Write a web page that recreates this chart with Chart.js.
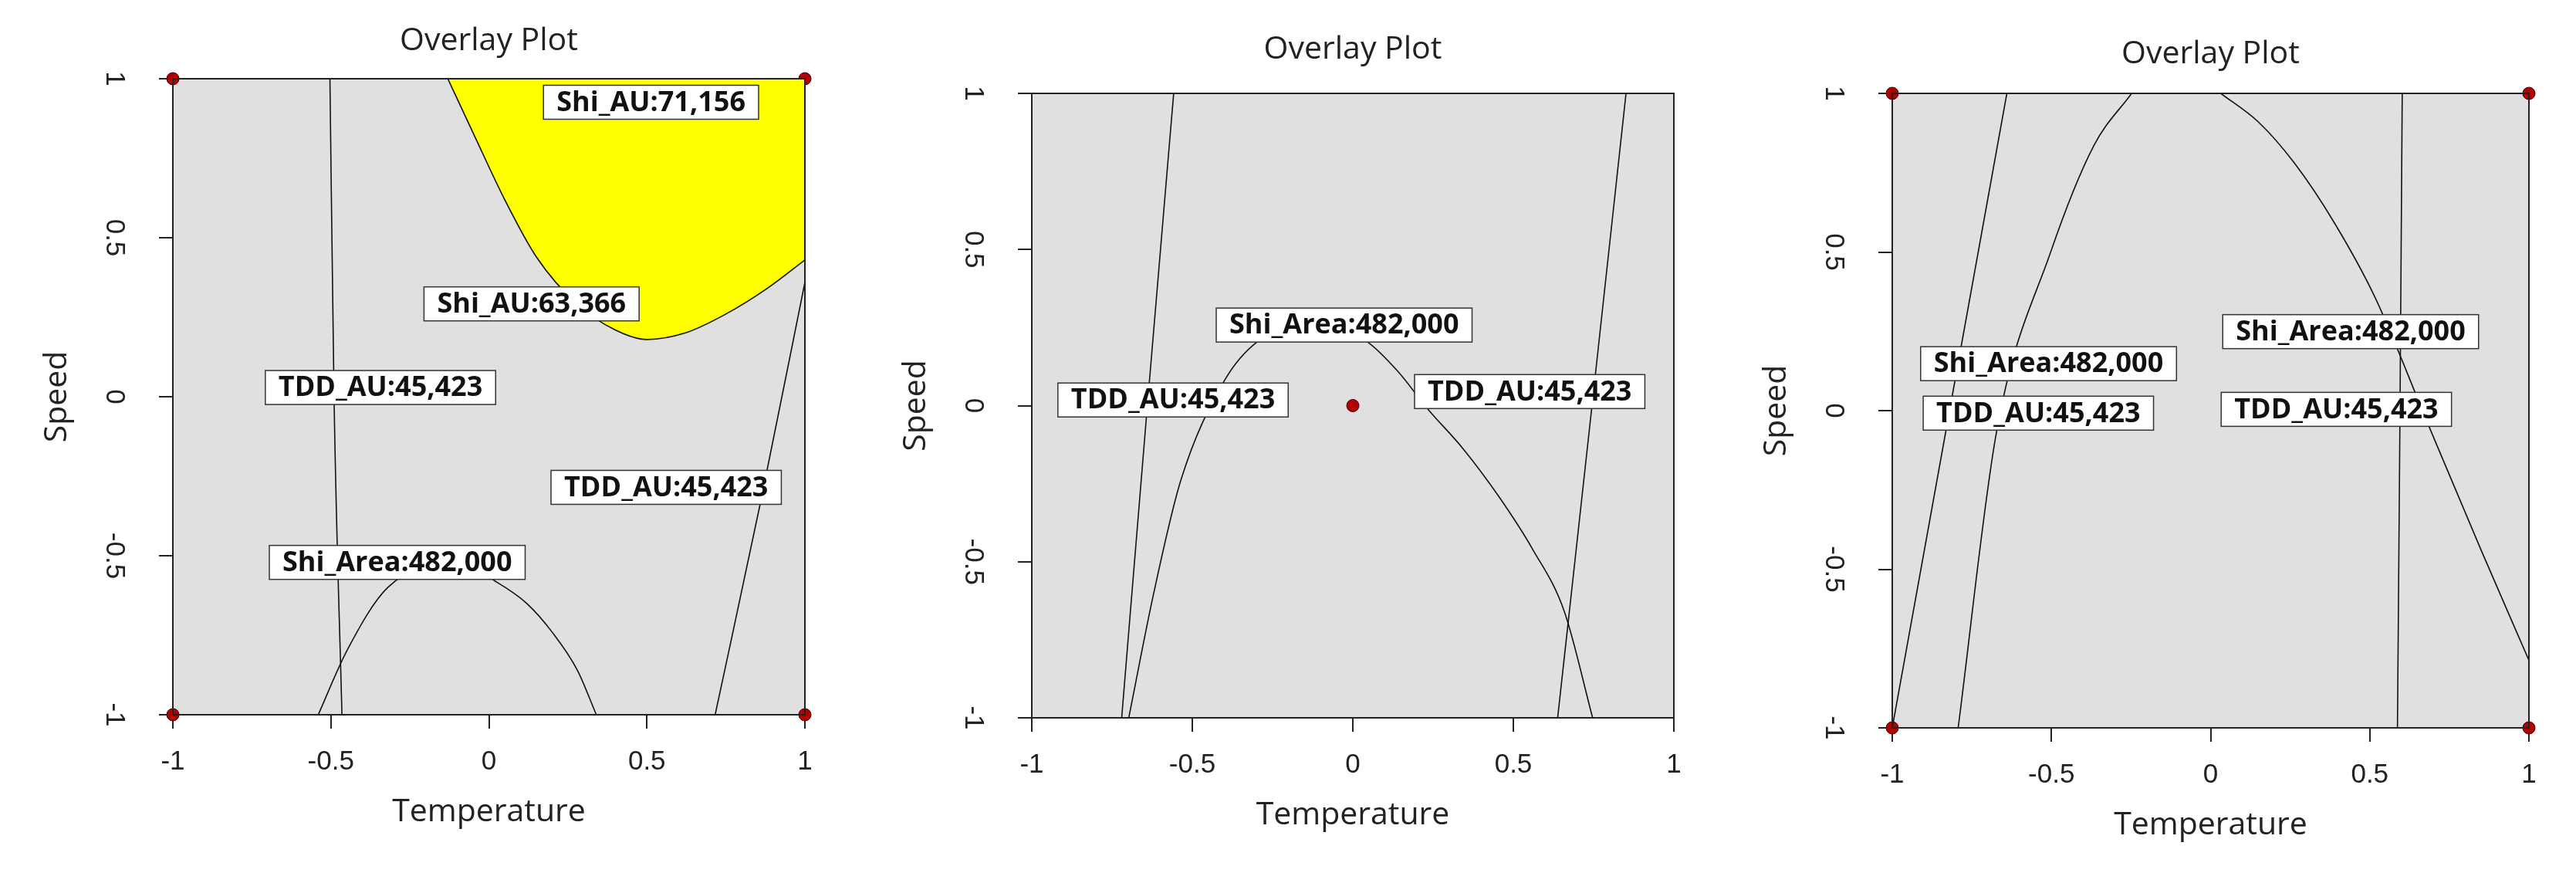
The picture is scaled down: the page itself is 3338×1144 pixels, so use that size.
<!DOCTYPE html>
<html lang="en">
<head>
<meta charset="UTF-8">
<title>Overlay Plot</title>
<script src="https://cdn.jsdelivr.net/npm/chart.js@4.4.1/dist/chart.umd.min.js"></script>
<style>
  body { margin: 0; background: #fff; width: 3338px; height: 1144px; overflow: hidden; }
  .panel { position: absolute; top: 0; height: 1144px; }
</style>
</head>
<body>
<div class="panel" style="left:0;width:1110px"><canvas id="c1"></canvas></div>
<div class="panel" style="left:1110px;width:1110px"><canvas id="c2"></canvas></div>
<div class="panel" style="left:2220px;width:1118px"><canvas id="c3"></canvas></div>
<script>
// tick values shared by both axes
const tickValues = [-1, -0.5, 0, 0.5, 1];
const designPointsCorners = [[-1, 1], [1, 1], [-1, -1], [1, -1]];
const designPointCenter = [[0, 0]];

// panel 1
const p1TddLeft = [[-0.503, 1], [-0.49, 0], [-0.465, -1]];
const p1TddRight = [[0.716, -1], [0.86, -0.33], [1, 0.36]];
const p1ShiArea = [[-0.54, -1], [-0.45, -0.8], [-0.32, -0.6], [-0.1, -0.52], [0.02, -0.58], [0.12, -0.65], [0.2, -0.74], [0.28, -0.86], [0.34, -1]];
const p1ShiAu = [[-0.13, 1], [-0.05, 0.83], [0.05, 0.62], [0.15, 0.44], [0.28, 0.29], [0.4, 0.21], [0.5, 0.18], [0.62, 0.2], [0.75, 0.26], [0.88, 0.34], [1, 0.43]];
const p1Labels = [['Shi_AU:71,156', 0.513, 0.926], ['Shi_AU:63,366', 0.135, 0.292], ['TDD_AU:45,423', -0.343, 0.029], ['TDD_AU:45,423', 0.561, -0.285], ['Shi_Area:482,000', -0.29, -0.521]];

// panel 2
const p2TddLeft = [[-0.558, 1], [-0.64, 0], [-0.72, -1]];
const p2TddRight = [[0.851, 1], [0.745, 0], [0.638, -1]];
const p2ShiArea = [[-0.698, -1], [-0.62, -0.6], [-0.536, -0.24], [-0.4, 0.08], [-0.297, 0.205], [-0.12, 0.27], [0.044, 0.205], [0.14, 0.11], [0.232, -0.009], [0.345, -0.14], [0.454, -0.29], [0.56, -0.46], [0.659, -0.66], [0.747, -1]];
const p2Labels = [['Shi_Area:482,000', -0.027, 0.258], ['TDD_AU:45,423', -0.56, 0.018], ['TDD_AU:45,423', 0.551, 0.045]];

// panel 3
const p3TddLeft = [[-0.64, 1], [-0.82, 0], [-1, -1]];
const p3TddRight = [[0.602, 1], [0.595, 0], [0.587, -1]];
const p3ShiAreaLeft = [[-0.793, -1], [-0.673, -0.07], [-0.503, 0.498], [-0.367, 0.835], [-0.248, 1]];
const p3ShiAreaRight = [[0.032, 1], [0.15, 0.91], [0.262, 0.782], [0.39, 0.59], [0.517, 0.356], [0.687, -0.052], [0.85, -0.44], [1, -0.787]];
const p3Labels = [['Shi_Area:482,000', -0.509, 0.148], ['TDD_AU:45,423', -0.541, -0.008], ['Shi_Area:482,000', 0.44, 0.249], ['TDD_AU:45,423', 0.395, 0.004]];

const pts = arr => arr.map(p => ({ x: p[0], y: p[1] }));
const fmt = v => String(v);

function curve(arr, extra) {
  return Object.assign({
    data: pts(arr), showLine: true, borderColor: '#111', borderWidth: 1.6,
    pointRadius: 0, cubicInterpolationMode: 'monotone', fill: false
  }, extra || {});
}
function dots(arr) {
  return {
    data: pts(arr), showLine: false, pointRadius: 8, pointBackgroundColor: '#b00000',
    pointBorderColor: '#400', pointBorderWidth: 1, clip: false
  };
}

const decor = {
  id: 'decor',
  beforeDatasetsDraw(chart) {
    const a = chart.chartArea, ctx = chart.ctx;
    ctx.save();
    ctx.fillStyle = '#e0e0e0';
    ctx.fillRect(a.left, a.top, a.right - a.left, a.bottom - a.top);
    ctx.restore();
  },
  afterDraw(chart) {
    const a = chart.chartArea, ctx = chart.ctx, o = chart.options.plugins.decor;
    const xs = chart.scales.x, ys = chart.scales.y;
    ctx.save();
    ctx.strokeStyle = '#222';
    ctx.lineWidth = 2;
    ctx.strokeRect(a.left, a.top, a.right - a.left, a.bottom - a.top);
    ctx.fillStyle = '#222';
    ctx.textAlign = 'center';
    ctx.textBaseline = 'middle';
    ctx.font = '41px "Open Sans"';
    ctx.fillText('Overlay Plot', (a.left + a.right) / 2, o.titleY);
    ctx.fillText('Temperature', (a.left + a.right) / 2, a.bottom + 126);
    // y tick labels, turned clockwise like the original
    ctx.font = '35px "Liberation Sans"';
    tickValues.forEach(v => {
      ctx.save();
      ctx.translate(a.left - 76, ys.getPixelForValue(v));
      ctx.rotate(Math.PI / 2);
      ctx.fillText(fmt(v), 0, 0);
      ctx.restore();
    });
    ctx.font = '41px "Open Sans"';
    ctx.translate(a.left - 150, (a.top + a.bottom) / 2);
    ctx.rotate(-Math.PI / 2);
    ctx.fillText('Speed', 0, 0);
    ctx.restore();
    // contour labels
    ctx.save();
    ctx.font = 'bold 36px "Open Sans"';
    ctx.textAlign = 'center';
    ctx.textBaseline = 'middle';
    o.labels.forEach(l => {
      const px = xs.getPixelForValue(l[1]), py = ys.getPixelForValue(l[2]);
      const w = ctx.measureText(l[0]).width + 34, h = 44;
      ctx.fillStyle = '#fff';
      ctx.fillRect(px - w / 2, py - h / 2, w, h);
      ctx.strokeStyle = '#333';
      ctx.lineWidth = 1.5;
      ctx.strokeRect(px - w / 2, py - h / 2, w, h);
      ctx.fillStyle = '#111';
      ctx.fillText(l[0], px, py + 1);
    });
    ctx.restore();
  }
};

function makeChart(id, box, datasets, labels, titleY) {
  const wrap = document.getElementById(id).parentElement;
  const cl = wrap.offsetLeft, cw = wrap.offsetWidth;
  new Chart(document.getElementById(id), {
    type: 'scatter',
    data: { datasets: datasets },
    plugins: [decor],
    options: {
      responsive: true, maintainAspectRatio: false, animation: false,
      layout: { padding: { top: box.top, right: cl + cw - box.right, left: 0, bottom: 0 } },
      plugins: { legend: { display: false }, tooltip: { enabled: false },
        decor: { labels: labels, titleY: titleY } },
      scales: {
        x: {
          type: 'linear', min: -1, max: 1,
          afterBuildTicks: s => { s.ticks = tickValues.map(v => ({ value: v })); },
          afterFit: s => { s.height = 1144 - box.bottom; },
          grid: { drawOnChartArea: false, tickLength: 18, color: '#222', lineWidth: 2 },
          border: { display: false },
          ticks: { font: { family: '"Liberation Sans"', size: 35 }, color: '#222', padding: 22, maxRotation: 0, callback: fmt }
        },
        y: {
          type: 'linear', min: -1, max: 1,
          afterBuildTicks: s => { s.ticks = tickValues.map(v => ({ value: v })); },
          afterFit: s => { s.width = box.left - cl; },
          grid: { drawOnChartArea: false, tickLength: 18, color: '#222', lineWidth: 2 },
          border: { display: false },
          ticks: { display: false }
        }
      }
    }
  });
}

makeChart('c1', { left: 224, right: 1043, top: 102, bottom: 926 }, [
  curve(p1ShiAu, { fill: 'end', backgroundColor: '#ffff00' }),
  curve(p1TddLeft), curve(p1TddRight), curve(p1ShiArea),
  dots(designPointsCorners)
], p1Labels, 53);

makeChart('c2', { left: 1337, right: 2169, top: 121, bottom: 930 }, [
  curve(p2TddLeft), curve(p2TddRight), curve(p2ShiArea),
  dots(designPointCenter)
], p2Labels, 64);

makeChart('c3', { left: 2452, right: 3277, top: 121, bottom: 943 }, [
  curve(p3TddLeft), curve(p3TddRight), curve(p3ShiAreaLeft), curve(p3ShiAreaRight),
  dots(designPointsCorners)
], p3Labels, 70);
</script>
</body>
</html>
